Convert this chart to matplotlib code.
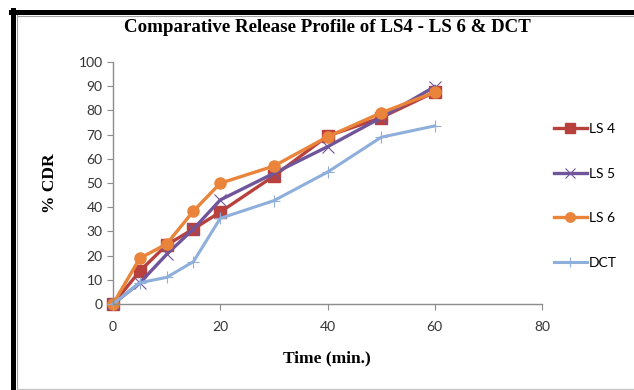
import matplotlib.pyplot as plt
from matplotlib.lines import Line2D

time_min = [0, 5, 10, 15, 20, 30, 40, 50, 60]
ls4 = [0, 13.6, 24.4, 31, 38, 52.9, 69.4, 77, 87.6]
ls5 = [0, 8.7, 20.5, 31, 43, 54, 65, 77, 89.8]
ls6 = [0, 18.9, 24.8, 38.4, 49.9, 57, 69.1, 79, 87.5]
dct = [0, 8.8, 11, 17.5, 35.4, 42.7, 54.5, 68.9, 73.6]

series = [
    ("LS 4", ls4, "#B8413E", "s", 8, 0, 2.4),
    ("LS 5", ls5, "#70559A", "x", 9, 0.8, 2.4),
    ("LS 6", ls6, "#E9843A", "o", 8, 0, 2.4),
    ("DCT", dct, "#8EAFDB", "+", 9, 0.8, 2.2),
]

fig = plt.figure(figsize=(6.34, 3.9), dpi=100)
ax = fig.add_axes([113 / 634, 1 - 304 / 390, 429 / 634, 242 / 390])

for name, vals, col, mk, ms, mew, lw in series:
    kw = dict(markeredgewidth=mew) if mew else dict(markeredgecolor=col)
    ax.plot(time_min, vals, color=col, lw=lw, marker=mk, ms=ms,
            label=name, clip_on=False, **kw)

ax.set_xlim(0, 80)
ax.set_ylim(0, 100)
ax.set_xticks(range(0, 81, 20))
ax.set_yticks(range(0, 101, 10))
for s in ["top", "right"]:
    ax.spines[s].set_visible(False)
for s in ["left", "bottom"]:
    ax.spines[s].set_color("#8C8C8C")
    ax.spines[s].set_linewidth(1.0)
ax.tick_params(direction="out", length=4, color="#8C8C8C", labelsize=10,
               labelcolor="#333333")
for lab in ax.get_xticklabels() + ax.get_yticklabels():
    lab.set_fontfamily("Lato")
ax.tick_params(axis="x", pad=8)

fig.text(327 / 634, 1 - 27 / 390, "Comparative Release Profile of LS4 - LS 6 & DCT",
         ha="center", va="center", fontsize=13.6, fontweight="bold",
         family="Liberation Serif")
fig.text(327 / 634, 1 - 358 / 390, "Time (min.)", ha="center", va="center",
         fontsize=12.5, fontweight="bold", family="Liberation Serif")
fig.text(50 / 634, 1 - 183 / 390, "% CDR", ha="center", va="center",
         rotation=90, fontsize=12.5, fontweight="bold", family="Liberation Serif")

fig.legend(loc="center left", bbox_to_anchor=(541 / 634, 1 - 196 / 390),
           frameon=False, prop={"family": "Lato", "size": 10},
           labelspacing=2.35, handlelength=2.4, handletextpad=0.15,
           markerscale=0.85)

# chart frame: heavy black on left/top, thin grey lines inside
fig.add_artist(Line2D([13 / 634, 13 / 634], [0, 1 - 10 / 390], color="black", lw=3.6))
fig.add_artist(Line2D([11 / 634, 1], [1 - 12 / 390, 1 - 12 / 390], color="black", lw=3.6))
fig.add_artist(Line2D([16.5 / 634, 16.5 / 634], [1 / 390, 1 - 15 / 390], color="#A0A0A0", lw=0.8))
fig.add_artist(Line2D([16.5 / 634, 1], [1 - 15.5 / 390, 1 - 15.5 / 390], color="#A0A0A0", lw=0.8))
fig.add_artist(Line2D([16.5 / 634, 1], [1.2 / 390, 1.2 / 390], color="#C8C8C8", lw=1.0))

fig.savefig("out.png", dpi=100)
